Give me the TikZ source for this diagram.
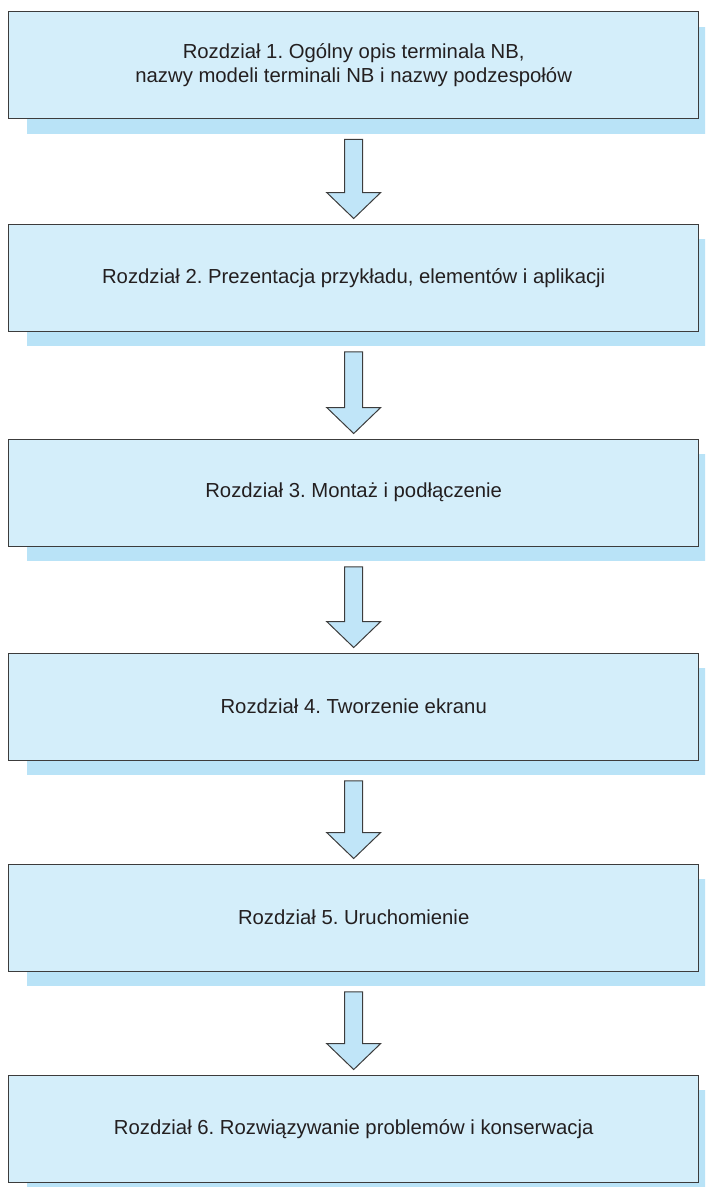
\documentclass[tikz,border=0pt]{standalone}
\usepackage{fontspec}
\setmainfont{Liberation Sans}
\usetikzlibrary{calc,shadows}
\definecolor{boxfill}{HTML}{D4EEFA}
\definecolor{shadowc}{HTML}{B9E3F7}
\definecolor{arrowfill}{HTML}{C0E5F8}
\definecolor{edgec}{HTML}{3C3C3C}
\definecolor{txt}{HTML}{231F20}
\tikzset{
  chapter/.style={draw=edgec, line width=1.4pt, fill=boxfill, text=txt,
    minimum width=690pt, minimum height=107pt, inner sep=0pt, align=center,
    anchor=north west, font=\fontsize{20.3}{24}\selectfont\frenchspacing,
    drop shadow={shadow xshift=18pt, shadow yshift=-15pt, fill=shadowc, opacity=1, draw=none}},
  blockarrow/.style={draw=edgec, line width=1pt, fill=arrowfill, line join=miter}
}
\newcommand\flowarrow[2]{%
  \draw[blockarrow] let \p1=($(#1.south)+(0,20)$), \p2=($(#2.north)+(0,-5)$) in
    (\x1-9pt,\y1) -- (\x1-9pt,\y2+26pt) -- (\x1-27pt,\y2+26pt) -- (\x1,\y2)
    -- (\x1+27pt,\y2+26pt) -- (\x1+9pt,\y2+26pt) -- (\x1+9pt,\y1) -- cycle;}
\begin{document}
\begin{tikzpicture}[x=1pt,y=-1pt]
\useasboundingbox (0,0) rectangle (705,1187);
\clip (0,0) rectangle (705,1187);
\node[chapter] (b1) at (8,11) {Rozdział 1. Ogólny opis terminala NB,\\nazwy modeli terminali NB i nazwy podzespołów};
\node[chapter] (b2) at (8,223.5) {Rozdział 2. Prezentacja przykładu, elementów i aplikacji};
\node[chapter] (b3) at (8,438.5) {Rozdział 3. Montaż i podłączenie};
\node[chapter] (b4) at (8,652.5) {Rozdział 4. Tworzenie ekranu};
\node[chapter] (b5) at (8,863.5) {Rozdział 5. Uruchomienie};
\node[chapter] (b6) at (8,1074.5) {Rozdział 6. Rozwiązywanie problemów i konserwacja};
\flowarrow{b1}{b2}
\flowarrow{b2}{b3}
\flowarrow{b3}{b4}
\flowarrow{b4}{b5}
\flowarrow{b5}{b6}
\end{tikzpicture}
\end{document}
